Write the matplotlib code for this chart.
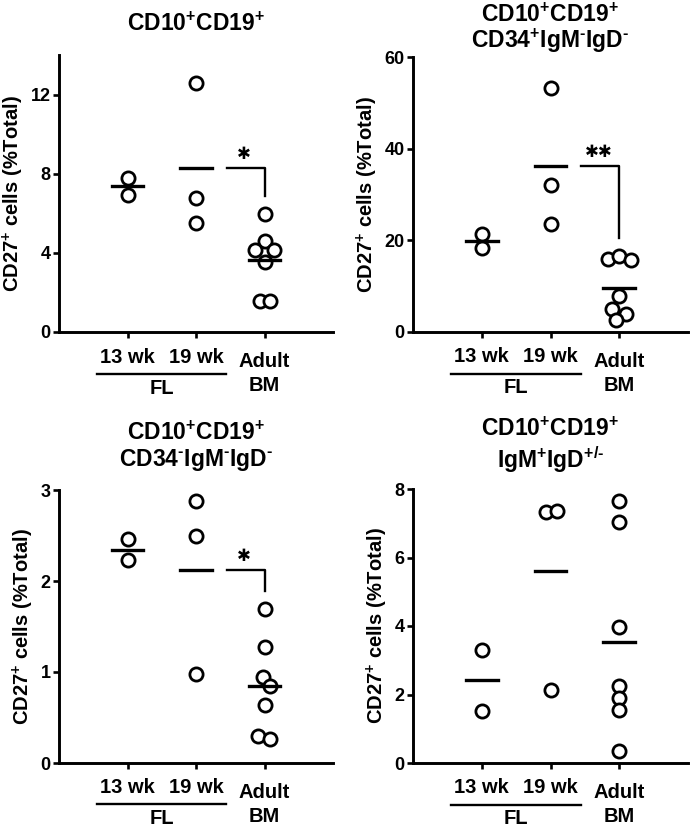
import numpy as np
import matplotlib
matplotlib.use("Agg")
import matplotlib.pyplot as plt

plt.rcParams['font.family'] = ['Liberation Sans', 'DejaVu Sans']
plt.rcParams['font.weight'] = 'bold'
plt.rcParams['mathtext.fontset'] = 'custom'
plt.rcParams['mathtext.rm'] = 'Liberation Sans:bold'
plt.rcParams['mathtext.it'] = 'Liberation Sans:bold'
plt.rcParams['mathtext.bf'] = 'Liberation Sans:bold'

# categorias
grupos = ["13 wk", "19 wk", "Adult\nBM"]

# valores (CD27+ cells, %Total)
a_13 = [7.80, 6.91]
a_19 = [12.61, 6.78, 5.53]
a_bm = [5.95, 4.60, 4.13, 4.13, 3.54, 1.55, 1.55]

b_13 = [21.4, 18.4]
b_19 = [53.3, 32.0, 23.6]
b_bm = [15.85, 16.6, 15.8, 7.85, 5.1, 3.85, 2.7]

c_13 = [2.46, 2.23]
c_19 = [2.88, 2.50, 0.98]
c_bm = [1.69, 1.27, 0.94, 0.85, 0.64, 0.30, 0.26]

d_13 = [3.29, 1.53]
d_19 = [7.32, 7.37, 2.14]
d_bm = [7.64, 7.03, 3.96, 2.24, 1.90, 1.56, 0.34]

titulos = [r"CD10$^{+}$CD19$^{+}$",
           r"CD10$^{+}$CD19$^{+}$" + "\n" + r"CD34$^{+}$IgM$^{\text{-}}$IgD$^{\text{-}}$",
           r"CD10$^{+}$CD19$^{+}$" + "\n" + r"CD34$^{\text{-}}$IgM$^{\text{-}}$IgD$^{\text{-}}$",
           r"CD10$^{+}$CD19$^{+}$" + "\n" + r"IgM$^{+}$IgD$^{+/\text{-}}$"]
ylims = [14, 60, 3, 8]
yticks = [[0, 4, 8, 12], [0, 20, 40, 60], [0, 1, 2, 3], [0, 2, 4, 6, 8]]
estrelas = ["\u2731", "\u2731\u2731", "\u2731", None]

# deslocamento horizontal dos pontos sobrepostos
desloc = [
    [[0, 0], [0, 0, 0], [0, 0, -0.145, 0.145, 0, -0.072, 0.082]],
    [[0, 0], [0, 0, 0], [-0.17, 0, 0.17, 0, -0.1, 0.1, -0.05]],
    [[0, 0], [0, 0, 0], [0, 0, -0.02, 0.08, 0, -0.1, 0.08]],
    [[0, 0], [-0.07, 0.1, 0], [0, 0, 0, 0, 0, 0, 0]],
]

dados = [[a_13, a_19, a_bm], [b_13, b_19, b_bm], [c_13, c_19, c_bm], [d_13, d_19, d_bm]]

# posicoes dos eixos em pixels (esq, topo, dir, base)
W, H = 690, 827
caixas = [(59, 55, 333, 332), (413, 57, 688, 332),
          (59, 490, 333, 763), (413, 489, 688, 763)]
pos_titulo = [1.112, 1.10, 1.157, 1.157]
esp_titulo = [1.0, 1.0, 1.15, 1.15]
pos_rotulo = [-0.056, -0.056, -0.074]

fig = plt.figure(figsize=(W / 100, H / 100), dpi=100)

for i in range(4):
    l, t, r, b = caixas[i]
    ax = fig.add_axes([l / W, 1 - b / H, (r - l) / W, (b - t) / H])
    for j, vals in enumerate(dados[i]):
        xs = j + 1 + np.array(desloc[i][j])
        ax.plot(xs, vals, 'o', ms=9.5, mfc='white', mec='black', mew=2.0,
                clip_on=False, zorder=3)
        m = np.mean(vals)
        ax.plot([j + 1 - 0.23, j + 1 + 0.23], [m, m], color='black', lw=2.4, zorder=4)

    if estrelas[i]:
        topo = np.mean(dados[i][1])
        fim = max(dados[i][2]) + 0.065 * ylims[i]
        ax.plot([2.45, 3.0, 3.0], [topo, topo, fim], color='black', lw=1.7)
        ax.annotate(estrelas[i], (2.7, topo), xytext=(0, 10), textcoords='offset points',
                    ha='center', va='center', fontsize=12, family='DejaVu Sans')

    ax.set_xlim(0, 4)
    ax.set_ylim(0, ylims[i])
    ax.set_yticks(yticks[i])
    ax.set_xticks([1, 2, 3])
    ax.set_xticklabels([])
    ax.tick_params(axis='y', labelsize=13, width=1.9, length=4, pad=2)
    ax.tick_params(axis='x', width=1.9, length=4)
    for s in ['top', 'right']:
        ax.spines[s].set_visible(False)
    for s in ['left', 'bottom']:
        ax.spines[s].set_linewidth(2.1)

    # rotulos das categorias
    for j, g in enumerate(grupos):
        ax.text(j + 1, pos_rotulo[j], g, ha='center', va='top', fontsize=14.5,
                fontweight='bold', linespacing=1.3, transform=ax.get_xaxis_transform())

    ax.set_ylabel(r"CD27$^{+}$ cells (%Total)", fontsize=14.5, fontweight='bold', labelpad=3)

    # barra do grupo FL
    ax.plot([0.55, 2.44], [-0.152, -0.152], color='black', lw=1.7,
            transform=ax.get_xaxis_transform(), clip_on=False)
    ax.text(1.5, -0.203, "FL", ha='center', va='center', fontsize=14.5,
            fontweight='bold', transform=ax.get_xaxis_transform())

    ax.text(0.5, pos_titulo[i], titulos[i], ha='center', va='center', fontsize=16.5,
            fontweight='bold', linespacing=esp_titulo[i], transform=ax.transAxes)

fig.savefig("out.png", dpi=100)
